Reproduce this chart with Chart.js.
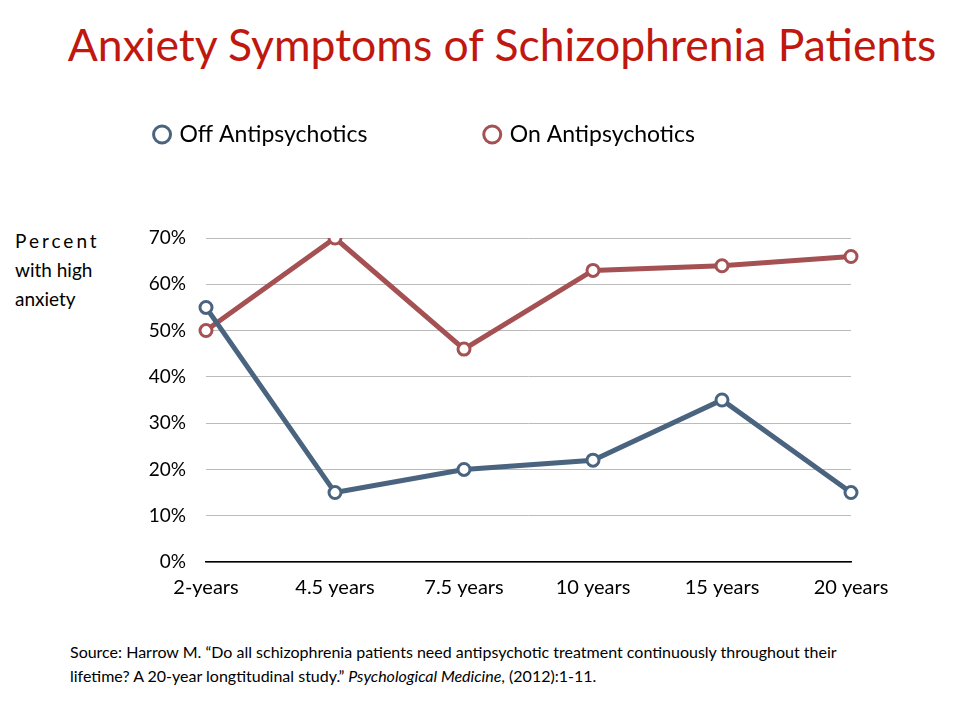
<!DOCTYPE html>
<html><head><meta charset="utf-8">
<script src="https://cdn.jsdelivr.net/npm/chart.js@4"></script>
<style>
body{margin:0;background:#fff;font-family:Lato,"Open Sans",sans-serif;}
#wrap{position:absolute;left:0;top:0;width:959px;height:703px;}
#title{position:absolute;top:17px;left:0;width:1004px;text-align:center;color:#c0180f;font-size:44.5px;}
#ylab{position:absolute;left:15px;top:226px;font-size:19px;line-height:29px;color:#000;}
#src{position:absolute;left:70px;top:640px;width:890px;font-size:16px;line-height:24px;color:#000;}
</style></head><body>
<div id="title">Anxiety Symptoms of Schizophrenia Patients</div>
<div id="ylab"><span style="letter-spacing:3px">Percent</span><br>with high<br>anxiety</div>
<div id="src">Source: Harrow M. “Do all schizophrenia patients need antipsychotic treatment continuously throughout their<br>lifetime? A 20-year longtitudinal study.” <i>Psychological Medicine</i>, (2012):1-11.</div>
<div id="wrap"><canvas id="c" width="959" height="703"></canvas></div>
<script>
const categories = ['2-years','4.5 years','7.5 years','10 years','15 years','20 years'];
const offValues = [55,15,20,22,35,15];
const onValues = [50,70,46,63,64,66];
const seriesNames = ['Off Antipsychotics','On Antipsychotics'];
const colors = ['#4a6480','#a55052'];

const ds = (label,data,col)=>({label,data,borderColor:col,backgroundColor:'#fff',borderWidth:5,
  pointRadius:6,pointBorderWidth:3,pointBackgroundColor:'#fff',pointBorderColor:col,tension:0});

const legendSpace = {id:'legendSpace',beforeInit(chart){
  const l = chart.legend, fit = l.fit;
  l.fit = function(){ fit.call(this); this.height += 82; };
}};

new Chart(document.getElementById('c'),{
  type:'line',
  data:{labels:categories,datasets:[ds(seriesNames[0],offValues,colors[0]),ds(seriesNames[1],onValues,colors[1])]},
  options:{
    responsive:false,animation:false,
    layout:{padding:{left:0,right:108,top:63,bottom:97}},
    plugins:{
      tooltip:{enabled:false},
      legend:{position:'top',labels:{usePointStyle:true,pointStyle:'circle',boxWidth:12,boxHeight:12,padding:60,
        color:'#000',font:{family:'Lato',size:23},
        generateLabels:(chart)=>chart.data.datasets.map((d,i)=>({text:i===0?d.label+'          ':d.label,fillStyle:'#fff',strokeStyle:d.borderColor,lineWidth:3,pointStyle:'circle',datasetIndex:i,fontColor:'#000'}))}}
    },
    scales:{
      x:{offset:false,grid:{display:false},border:{color:'#000',width:1.5},
        ticks:{color:'#000',font:{family:'Lato',size:20},padding:6}},
      y:{min:0,max:70,afterFit:s=>{s.width=206;},
        grid:{color:'#bbb',drawTicks:false},border:{display:false},
        ticks:{stepSize:10,color:'#000',padding:20,font:{family:'Lato',size:19},callback:v=>v+'%'}}
    }
  },
  plugins:[legendSpace]
});
</script>
</body></html>
